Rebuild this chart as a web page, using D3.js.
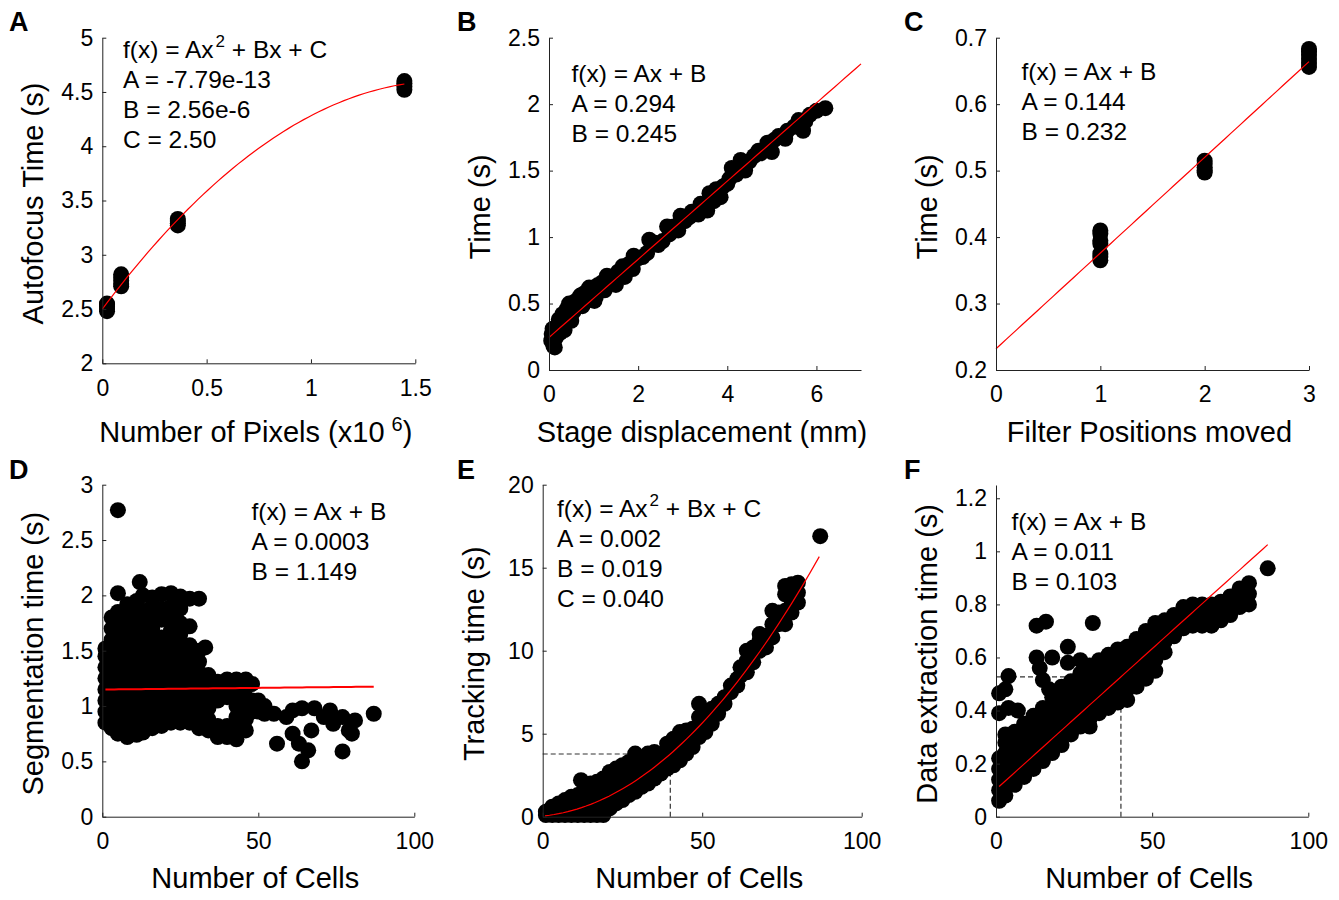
<!DOCTYPE html>
<meta charset="utf-8">
<head>
  <meta charset="UTF-8" />
  <title>Timing figure</title>
  <script src="https://d3js.org/d3.v7.min.js"></script>
</head>
<body style="margin:0;background:#fff">
<div id="fig"></div>

<script>
  // ---------- data ----------

  // A: autofocus time vs image size (pixels x10^6)
  var afPixels = [0.0226, 0.0905, 0.3619, 1.4477]
  var afTimes = [
    [2.48, 2.50, 2.52, 2.54, 2.55],
    [2.71, 2.73, 2.76, 2.79, 2.82],
    [3.27, 3.29, 3.31, 3.33],
    [4.52, 4.55, 4.58, 4.60]
  ]
  var afFit = [-7.79e-13, 2.56e-6, 2.50]   // on raw pixel count

  // B: stage move time vs displacement (mm, s)
  var stagePoints = [
    [0.05,0.22],[0.06,0.27],[0.08,0.31],[0.1,0.18],[0.13,0.17],[0.15,0.24],[0.18,0.33],[0.22,0.38],
    [0.25,0.28],[0.3,0.42],[0.35,0.30],[0.4,0.46],[0.45,0.50],[0.5,0.37],[0.55,0.44],[0.6,0.52],
    [0.7,0.56],[0.75,0.48],[0.8,0.58],[0.85,0.52],[0.9,0.62],[1.0,0.60],[1.02,0.52],[1.05,0.55],
    [1.1,0.64],[1.2,0.66],[1.25,0.60],[1.3,0.71],[1.4,0.70],[1.5,0.64],[1.55,0.74],[1.65,0.78],
    [1.7,0.70],[1.8,0.80],[1.88,0.76],[1.9,0.86],[2.0,0.84],[2.1,0.85],[2.2,0.88],[2.25,0.98],
    [2.35,0.96],[2.45,0.94],[2.55,0.97],[2.65,1.08],[2.7,1.02],[2.8,1.08],[2.9,1.05],[2.95,1.16],
    [3.05,1.12],[3.15,1.15],[3.2,1.19],[3.35,1.17],[3.4,1.25],[3.55,1.20],[3.6,1.33],[3.7,1.27],
    [3.75,1.36],[3.85,1.30],[3.9,1.38],[4.0,1.40],[4.05,1.44],[4.1,1.52],[4.2,1.47],[4.3,1.58],
    [4.4,1.50],[4.5,1.57],[4.6,1.61],[4.7,1.65],[4.75,1.63],[4.9,1.71],[5.0,1.64],[5.05,1.73],
    [5.15,1.76],[5.3,1.74],[5.35,1.80],[5.5,1.83],[5.6,1.88],[5.7,1.80],[5.75,1.87],[5.85,1.92],
    [6.0,1.95],[6.2,1.97]
  ]
  var stageFit = [0.294, 0.245]

  // C: filter wheel time vs positions moved
  var filterMoves = [1, 2, 3]
  var filterTimes = [
    [0.365, 0.370, 0.375, 0.390, 0.395, 0.405, 0.410],
    [0.497, 0.500, 0.505, 0.510, 0.515],
    [0.656, 0.662, 0.668, 0.674, 0.679, 0.683]
  ]
  var filterFit = [0.144, 0.232]

  // D: segmentation time vs number of cells  [cells, [times]]
  var segColumns = [
    [1, [0.85,0.95,1.05,1.15,1.25,1.35,1.45,1.52]],
    [3, [0.80,0.90,1.00,1.10,1.20,1.30,1.40,1.50,1.60,1.70,1.80]],
    [5, [0.75,0.85,0.95,1.05,1.15,1.25,1.35,1.45,1.55,1.65,1.75,1.85,2.02,2.77]],
    [8, [0.72,0.82,0.92,1.02,1.12,1.22,1.32,1.42,1.52,1.62,1.72,1.82,1.92]],
    [11, [0.74,0.84,0.94,1.04,1.14,1.24,1.34,1.44,1.54,1.64,1.74,1.84,1.95]],
    [12, [2.12]],
    [13, [0.76,0.86,0.96,1.06,1.16,1.26,1.36,1.46,1.56,1.66,1.76,1.86,2.00]],
    [16, [0.80,0.90,1.00,1.10,1.20,1.30,1.40,1.50,1.60,1.70,1.80,1.90,1.98]],
    [19, [0.82,0.92,1.02,1.12,1.22,1.32,1.42,1.52,1.62,1.78,1.88,2.01]],
    [22, [0.85,0.95,1.05,1.15,1.25,1.35,1.45,1.55,1.68,1.80,1.90,2.02]],
    [25, [0.85,0.95,1.05,1.15,1.25,1.35,1.45,1.55,1.65,1.75,1.88,1.99]],
    [28, [0.85,0.95,1.05,1.15,1.25,1.35,1.45,1.55,1.72,1.97]],
    [31, [0.80,0.90,1.00,1.10,1.20,1.30,1.40,1.50,1.97]],
    [33, [1.53]],
    [34, [0.78,0.88,0.98,1.08,1.18,1.28]],
    [37, [0.72,0.82,1.05,1.15,1.22]],
    [40, [0.72,0.82,1.08,1.18,1.24]],
    [43, [0.70,0.80,0.90,1.00,1.10,1.20,1.24]],
    [46, [0.78,0.88,0.98,1.08,1.18,1.24]],
    [48, [0.95,1.05,1.20]],
    [50, [0.95,1.05]],
    [52, [0.93,1.00]],
    [55, [0.93]], [56, [0.66]], [59, [0.90]], [61, [0.75,0.96]], [63, [0.66]],
    [64, [0.50,0.98]], [66, [0.60]], [67, [0.78]], [68, [0.98]], [71, [0.90]],
    [73, [0.96]], [74, [0.84]], [77, [0.59,0.90]], [79, [0.78]], [80, [0.75]],
    [81, [0.87]], [87, [0.93]]
  ]
  var segFit = [0.0003, 1.149]

  // E: tracking time vs number of cells
  var trackColumns = [
    [1, [0.1,0.3]], [3, [0.1,0.4,0.6]], [5, [0.1,0.5,0.8]], [7, [0.1,0.6,1.0]],
    [9, [0.1,0.6,1.2]], [11, [0.1,0.7,1.3]], [12, [2.2]], [13, [0.1,0.7,1.3,1.7]],
    [15, [0.1,0.8,1.4,2.0]], [17, [0.1,0.9,1.5,2.1]], [19, [0.1,0.9,1.6,2.3]],
    [21, [0.5,1.2,1.9,2.7]], [23, [0.8,1.5,2.2,2.9]], [25, [1.0,1.6,2.3,3.1]],
    [27, [1.3,1.9,2.6,3.3]], [29, [1.5,2.1,2.8,3.5,3.8]], [31, [1.8,2.4,3.0,3.5]],
    [33, [2.0,2.6,3.2,3.8]], [35, [2.3,2.9,3.4,3.9]], [37, [2.6,3.2,3.7]],
    [39, [2.9,3.5,4.0,4.4]], [41, [3.1,3.7,4.3,4.7]], [43, [3.4,4.0,4.6,5.1]],
    [45, [3.8,4.4,5.0,5.2]], [47, [4.2,4.8,5.3]], [49, [4.8,5.4,6.0,6.8]],
    [51, [5.1,5.7,6.2]], [53, [5.6,6.1,6.5]], [55, [6.2,6.8]], [57, [6.8,7.2]],
    [59, [7.5,7.9]], [61, [7.9,8.3]], [62, [8.5,9.0]], [64, [8.7,9.4,10.0]],
    [66, [9.3,9.8,10.2]], [68, [10.0,10.6,11.0]], [70, [10.2,10.9]],
    [72, [10.8,11.6,12.4]], [74, [11.6,12.3]], [76, [11.6,12.4,13.4,13.9]],
    [78, [12.3,13.0,14.0]], [80, [12.9,13.5,14.1]], [87, [16.9]]
  ]
  var trackFit = [0.00186, 0.019, 0.040]

  // F: data extraction time vs number of cells
  var extractColumns = [
    [1, [0.06,0.10,0.14,0.18,0.22,0.39,0.465]], [3, [0.08,0.12,0.16,0.20,0.24,0.28,0.31,0.48]],
    [4, [0.41,0.53]], [6, [0.12,0.16,0.20,0.24,0.28,0.32]], [7, [0.40]],
    [9, [0.15,0.19,0.23,0.27,0.31,0.35]], [12, [0.18,0.22,0.26,0.30,0.34,0.38]],
    [13, [0.60,0.72]], [14, [0.56]], [15, [0.21,0.25,0.29,0.33,0.37,0.41,0.515]],
    [16, [0.735]], [17, [0.48]], [18, [0.24,0.28,0.32,0.36,0.40,0.45,0.60]],
    [21, [0.27,0.31,0.35,0.39,0.43,0.47,0.49]], [23, [0.58,0.64]],
    [24, [0.31,0.35,0.39,0.43,0.47,0.51]], [27, [0.34,0.38,0.42,0.46,0.50,0.54,0.59]],
    [30, [0.34,0.37,0.41,0.45,0.49,0.53,0.57]], [31, [0.73]],
    [33, [0.39,0.43,0.47,0.51,0.55,0.59]], [36, [0.41,0.45,0.49,0.53,0.57,0.61]],
    [39, [0.43,0.47,0.51,0.55,0.59,0.63]], [42, [0.44,0.48,0.52,0.56,0.60,0.64]],
    [45, [0.49,0.53,0.57,0.61,0.65,0.67]], [48, [0.52,0.56,0.60,0.64,0.68,0.70]],
    [51, [0.55,0.59,0.63,0.67,0.71,0.73]], [54, [0.62,0.66,0.70,0.74]],
    [57, [0.68,0.72,0.76]], [60, [0.71,0.75,0.79]], [63, [0.72,0.76,0.80]],
    [66, [0.72,0.76,0.80]], [69, [0.72,0.76,0.80]], [72, [0.74,0.78,0.81]],
    [75, [0.76,0.80,0.83]], [78, [0.79,0.83,0.86]], [81, [0.80,0.84,0.88]],
    [87, [0.936]]
  ]
  var extractFit = [0.0106, 0.103]

  // tick values
  var ticksA = { x: [0, 0.5, 1, 1.5], y: [2, 2.5, 3, 3.5, 4, 4.5, 5] }
  var ticksB = { x: [0, 2, 4, 6], y: [0, 0.5, 1, 1.5, 2, 2.5] }
  var ticksC = { x: [0, 1, 2, 3], y: [0.2, 0.3, 0.4, 0.5, 0.6, 0.7] }
  var ticksD = { x: [0, 50, 100], y: [0, 0.5, 1, 1.5, 2, 2.5, 3] }
  var ticksE = { x: [0, 50, 100], y: [0, 5, 10, 15, 20] }
  var ticksF = { x: [0, 50, 100], y: [0, 0.2, 0.4, 0.6, 0.8, 1, 1.2] }

  // ---------- helpers ----------
  function fromGroups(xs, groups) {
    return xs.flatMap((x, i) => groups[i].map(v => [x, v]))
  }
  function fromColumns(cols) {
    return cols.flatMap(c => c[1].map(v => [c[0], v]))
  }
  var lin = c => (x => c[0] * x + c[1])
  var quad = c => (x => c[0] * x * x + c[1] * x + c[2])

  var FONT = "'Liberation Sans', Arial, Helvetica, sans-serif"
  var svg = d3.select("#fig").append("svg")
    .attr("width", 1339).attr("height", 900)
    .style("font-family", FONT)

  // ---------- panel layout ----------
  var panels = [
    { letter: "A", lp: [9, 31], left: 102.3, right: 415.3, top: 37.7, bottom: 363.3,
      xd: [0, 1.5], yd: [2, 5], ticks: ticksA,
      points: fromGroups(afPixels, afTimes),
      fit: x => quad(afFit)(x * 1e6), fitRange: [0, 1.4477],
      xlab: ["Number of Pixels (x10", "6", ")"], xlabY: 441.7, ylab: "Autofocus Time (s)",
      ann: { x: 123, y: 58.3, lines: [["f(x) = Ax", "2", " + Bx + C"], "A = -7.79e-13", "B = 2.56e-6", "C = 2.50"] } },
    { letter: "B", lp: [457, 31], left: 549, right: 861, top: 37.7, bottom: 370,
      xd: [0, 7], yd: [0, 2.5], ticks: ticksB,
      points: stagePoints, fit: lin(stageFit), fitRange: [0, 7],
      xlab: "Stage displacement (mm)", xlabY: 441.7, ylab: "Time (s)",
      ann: { x: 571.5, y: 82, lines: ["f(x) = Ax + B", "A = 0.294", "B = 0.245"] } },
    { letter: "C", lp: [904, 31], left: 996, right: 1309, top: 37.7, bottom: 370,
      xd: [0, 3], yd: [0.2, 0.7], ticks: ticksC,
      points: fromGroups(filterMoves, filterTimes), fit: lin(filterFit), fitRange: [0, 3],
      xlab: "Filter Positions moved", xlabY: 441.7, ylab: "Time (s)",
      ann: { x: 1021.5, y: 80, lines: ["f(x) = Ax + B", "A = 0.144", "B = 0.232"] } },
    { letter: "D", lp: [9, 479], left: 102.3, right: 414.3, top: 484.7, bottom: 816.7,
      xd: [0, 100], yd: [0, 3], ticks: ticksD,
      points: fromColumns(segColumns), fit: lin(segFit), fitRange: [1, 87], fitWidth: 2,
      xlab: "Number of Cells", xlabY: 888.3, ylab: "Segmentation time (s)",
      ann: { x: 251.5, y: 520, lines: ["f(x) = Ax + B", "A = 0.0003", "B = 1.149"] } },
    { letter: "E", lp: [457, 479], left: 542.7, right: 861.7, top: 484.7, bottom: 816.7,
      xd: [0, 100], yd: [0, 20], ticks: ticksE,
      points: fromColumns(trackColumns), fit: quad(trackFit), fitRange: [0.7, 86.7], guide: 40,
      xlab: "Number of Cells", xlabY: 888.3, ylab: "Tracking time (s)",
      ann: { x: 557, y: 516.7, lines: [["f(x) = Ax", "2", " + Bx + C"], "A = 0.002", "B = 0.019", "C = 0.040"] } },
    { letter: "F", lp: [904, 479], left: 996, right: 1308.3, top: 485, bottom: 816.7,
      xd: [0, 100], yd: [0, 1.25], ticks: ticksF,
      points: fromColumns(extractColumns), fit: lin(extractFit), fitRange: [1, 87], guide: 40,
      xlab: "Number of Cells", xlabY: 888.3, ylab: "Data extraction time (s)",
      ann: { x: 1011.5, y: 530, lines: ["f(x) = Ax + B", "A = 0.011", "B = 0.103"] } }
  ]

  function writeLine(sel, parts, supSize, supDy) {
    if (typeof parts === "string") { sel.text(parts); return }
    sel.append("tspan").text(parts[0])
    sel.append("tspan").attr("font-size", supSize).attr("dy", supDy).attr("dx", 2).text(parts[1])
    sel.append("tspan").attr("dy", -supDy).text(parts[2])
  }

  function drawPanel(p) {
    var x = d3.scaleLinear().domain(p.xd).range([p.left, p.right])
    var y = d3.scaleLinear().domain(p.yd).range([p.bottom, p.top])
    var g = svg.append("g")

    // dashed guide at 40 cells
    if (p.guide) {
      var gv = p.fit(p.guide)
      g.append("path")
        .attr("d", d3.line()([[x(0), y(gv)], [x(p.guide), y(gv)]]) + d3.line()([[x(p.guide), y(0)], [x(p.guide), y(gv)]]))
        .attr("fill", "none").attr("stroke", "#333").attr("stroke-width", 1.2)
        .attr("stroke-dasharray", "5,3")
    }

    g.selectAll("circle.dot")
      .data(p.points)
      .join("circle")
        .attr("class", "dot")
        .attr("cx", d => x(d[0]))
        .attr("cy", d => y(d[1]))
        .attr("r", 8)
        .attr("fill", "#000")

    var n = 60
    var fx = d3.range(n + 1).map(i => p.fitRange[0] + (p.fitRange[1] - p.fitRange[0]) * i / n)
    g.append("path")
      .datum(fx)
      .attr("d", d3.line().x(d => x(d)).y(d => y(p.fit(d))))
      .attr("fill", "none").attr("stroke", "#ff0000")
      .attr("stroke-width", p.fitWidth || 1.2)

    var xa = g.append("g")
      .attr("transform", "translate(0," + p.bottom + ")")
      .call(d3.axisBottom(x).tickValues(p.ticks.x).tickFormat(d3.format("~g"))
        .tickSizeInner(-4).tickSizeOuter(0).tickPadding(16))
    var ya = g.append("g")
      .attr("transform", "translate(" + p.left + ",0)")
      .call(d3.axisLeft(y).tickValues(p.ticks.y).tickFormat(d3.format("~g"))
        .tickSizeInner(-4).tickSizeOuter(0).tickPadding(9))
    ;[xa, ya].forEach(a => {
      a.attr("font-family", FONT).attr("font-size", 23).attr("color", "#000")
      a.select(".domain").attr("stroke", "#222")
      a.selectAll(".tick line").attr("stroke", "#222")
    })

    // axis titles
    var xl = g.append("text")
      .attr("x", (p.left + p.right) / 2 - 3).attr("y", p.xlabY)
      .attr("text-anchor", "middle").attr("font-size", 29)
    if (typeof p.xlab === "string") xl.text(p.xlab)
    else {
      xl.append("tspan").text(p.xlab[0])
      xl.append("tspan").attr("font-size", 20).attr("dy", -11).attr("dx", 7).text(p.xlab[1])
      xl.append("tspan").attr("dy", 11).text(p.xlab[2])
    }
    g.append("text")
      .attr("transform", "translate(" + (p.left - 59) + "," + ((p.top + p.bottom) / 2 + 3) + ") rotate(-90)")
      .attr("text-anchor", "middle").attr("font-size", 29)
      .text(p.ylab)

    // fit annotation
    p.ann.lines.forEach((ln, i) => {
      var t = g.append("text").attr("x", p.ann.x).attr("y", p.ann.y + i * 30)
        .attr("font-size", 24.5)
      writeLine(t, ln, 17, -11)
    })

    g.append("text").attr("x", p.lp[0]).attr("y", p.lp[1])
      .attr("font-size", 27).attr("font-weight", "bold").text(p.letter)
  }

  panels.forEach(drawPanel)
</script>
</body>
